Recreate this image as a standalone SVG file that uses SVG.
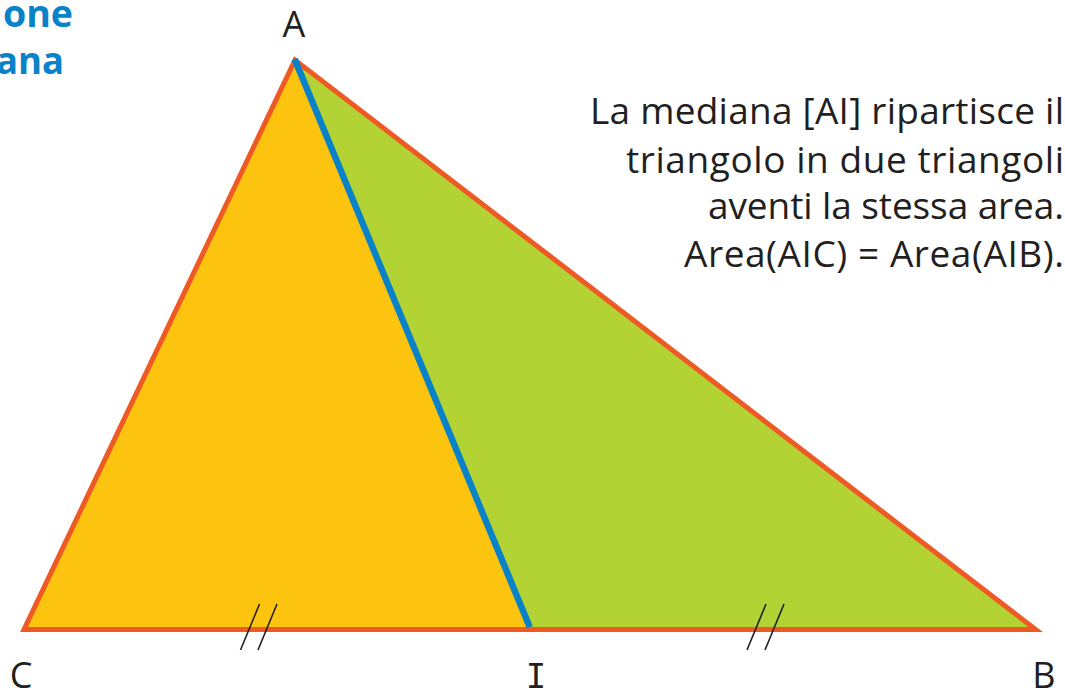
<svg xmlns="http://www.w3.org/2000/svg" width="1065" height="691" viewBox="0 0 1065 691">
<style>
.lbl{font-family:"Open Sans","Noto Sans",sans-serif;font-size:36px;fill:#231f20}
.txt{font-family:"Open Sans","Noto Sans",sans-serif;font-size:37px;fill:#231f20;text-anchor:end}
.ttl{font-family:"Open Sans","Noto Sans",sans-serif;font-size:38px;font-weight:bold;fill:#0a82c8;text-anchor:end}
.tick{stroke:#231f20;stroke-width:1.6;fill:none}
</style>
<rect width="1065" height="691" fill="#ffffff"/>
<g id="title">
<text class="ttl" x="73" y="27" textLength="70" lengthAdjust="spacingAndGlyphs">one</text>
<text class="ttl" x="64" y="74" textLength="68" lengthAdjust="spacingAndGlyphs">ana</text>
</g>
<g id="triangle-AIC"><polygon points="295,60 24,629.5 530,629.5" fill="#fdc40f"/></g>
<g id="triangle-AIB"><polygon points="295,60 530,629.5 1035.6,629.5" fill="#b3d335"/></g>
<g id="outline"><polygon points="295,60 24,629.5 1035.6,629.5" fill="none" stroke="#ef5a24" stroke-width="5" stroke-linejoin="miter"/></g>
<g id="connectors">
<line id="median-AI" x1="294.6" y1="59" x2="529.8" y2="627.2" stroke="#0a82c8" stroke-width="6.5"/>
<g id="ticks-CI">
<line class="tick" x1="240.5" y1="650" x2="259.5" y2="604"/>
<line class="tick" x1="258" y1="650" x2="277" y2="604"/>
</g>
<g id="ticks-IB">
<line class="tick" x1="747" y1="650" x2="766" y2="604"/>
<line class="tick" x1="765" y1="650" x2="784" y2="604"/>
</g>
</g>
<g id="label-A"><text class="lbl" x="294" y="37" text-anchor="middle">A</text></g>
<g id="label-C"><text class="lbl" x="21" y="688" text-anchor="middle">C</text></g>
<g id="label-I"><text class="lbl" x="536" y="688" text-anchor="middle" style="font-family:'DejaVu Sans Mono',monospace;font-size:34px">I</text></g>
<g id="label-B"><text class="lbl" x="1044" y="688" text-anchor="middle">B</text></g>
<g id="caption">
<text class="txt" x="1064" y="124" textLength="474">La mediana [AI] ripartisce il</text>
<text class="txt" x="1064" y="173" textLength="438">triangolo in due triangoli</text>
<text class="txt" x="1064" y="219" textLength="356">aventi la stessa area.</text>
<text class="txt" x="1064" y="267" textLength="380">Area(AIC) = Area(AIB).</text>
</g>
</svg>
